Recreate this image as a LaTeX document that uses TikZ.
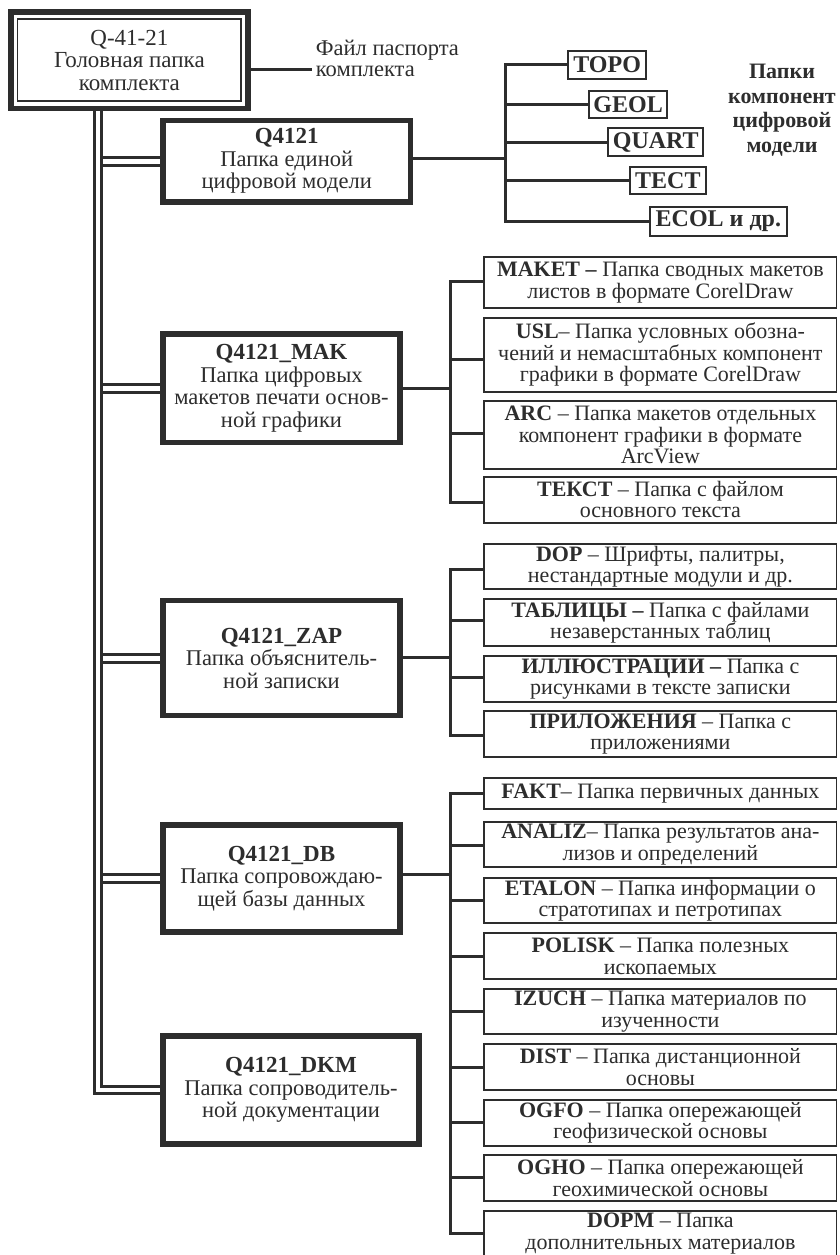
\documentclass[tikz,border=0pt]{standalone}
\usepackage{fontspec}
\setmainfont{Liberation Serif}
\usetikzlibrary{backgrounds}
\definecolor{ink}{RGB}{45,45,45}
\newcommand\rfnt{\fontsize{22}{21.5}\selectfont}
\newcommand\lfnt{\fontsize{22.5}{22.5}\selectfont}
\newcommand\ttl[1]{{\fontsize{23}{22.5}\selectfont\bfseries #1}}
\newcommand\rbx[5]{%
  \node[rbox, minimum height={#3-#2}] (#1) at (660.4,{(#2+#3)/2}) {#5};
  \coordinate (#1-b) at (484.3,#4);
}
\begin{document}
\begin{tikzpicture}[x=1pt,y=-1pt,
  conn/.style={draw=ink,line width=3pt},
  trunk/.style={draw=ink,double=white,line width=3pt,double distance=4.7pt},
  lbox/.style={draw=ink,fill=white,line width=5.5pt,inner sep=0pt,outer sep=0pt,align=center,text=ink,font=\lfnt},
  rbox/.style={draw=ink,fill=white,line width=1.8pt,minimum width=352.2pt,inner sep=0pt,outer sep=0pt,align=center,text=ink,font=\rfnt},
  cbox/.style={draw=ink,fill=white,line width=1.8pt,inner sep=0pt,outer sep=0pt,anchor=west,text=ink,font=\fontsize{24}{24}\selectfont\bfseries},
]
\useasboundingbox (0,0) rectangle (839,1255);
\clip (0,0) rectangle (839,1255);

% head box
\node[lbox, minimum width=237.2pt, minimum height=96.5pt, font=\fontsize{23}{22.5}\selectfont] (head) at (129.4,60.25)
  {Q-41-21\\Головная папка\\комплекта};
\draw[draw=ink,line width=1.7pt] ([xshift=6.7pt,yshift=-7pt]head.north west) rectangle ([xshift=-7pt,yshift=7.5pt]head.south east);
\node[anchor=west, align=left, inner xsep=4pt, inner ysep=0pt, text=ink, font=\fontsize{22.5}{21}\selectfont] (pass) at (311.7,58.5) {Файл паспорта\\комплекта};
\coordinate (passc) at (311.7,70);

% left boxes
\node[lbox, minimum width=247.5pt, minimum height=81.5pt] (q) at (286.75,161.25)
  {\ttl{Q4121}\\Папка единой\\цифровой модели};
\node[lbox, minimum width=237pt, minimum height=108.5pt] (mak) at (281.5,388.25)
  {\ttl{Q4121\_MAK}\\Папка цифровых\\макетов печати основ-\\ной графики};
\node[lbox, minimum width=237pt, minimum height=115pt] (zap) at (281.5,658.2)
  {\ttl{Q4121\_ZAP}\\Папка объяснитель-\\ной записки};
\node[lbox, minimum width=237pt, minimum height=107pt] (db) at (281.5,878.5)
  {\ttl{Q4121\_DB}\\Папка сопровождаю-\\щей базы данных};
\node[lbox, minimum width=256pt, minimum height=108pt] (dkm) at (291,1090)
  {\ttl{Q4121\_DKM}\\Папка сопроводитель-\\ной документации};

% component boxes
\node[cbox, minimum width=77.7pt, minimum height=28pt] (topo) at (568.3,65) {TOPO};
\node[cbox, minimum width=78.3pt, minimum height=27.3pt] (geol) at (589,104.5) {GEOL};
\node[cbox, minimum width=95pt, minimum height=27.7pt] (quart) at (608.3,142.15) {QUART};
\node[cbox, minimum width=75.7pt, minimum height=27.6pt] (tect) at (630,180.5) {TECT};
\node[cbox, minimum width=136.7pt, minimum height=29pt] (ecol) at (650,221.2) {ECOL и др.};
\node[align=center, text=ink, font=\fontsize{22}{24.5}\selectfont\bfseries] (complab) at (782,110)
  {Папки\\компонент\\цифровой\\модели};

% right boxes
\rbx{maket}{256.7}{308.3}{281.7}{\textbf{MAKET –} Папка сводных макетов\\листов в формате CorelDraw}
\rbx{usl}{317.7}{391.7}{359.3}{\textbf{USL}– Папка условных обозна-\\чений и немасштабных компонент\\графики в формате CorelDraw}
\rbx{arc}{401}{469}{433.3}{\textbf{ARC} – Папка макетов отдельных\\компонент графики в формате\\ArcView}
\rbx{tekst}{476.7}{522.7}{502.3}{\textbf{ТЕКСТ} – Папка с файлом\\основного текста}
\rbx{dop}{544}{589.3}{569.3}{\textbf{DOP} – Шрифты, палитры,\\нестандартные модули и др.}
\rbx{tabl}{599.3}{645.7}{620.3}{\textbf{ТАБЛИЦЫ –} Папка с файлами\\незаверстанных таблиц}
\rbx{illu}{656}{701.7}{677.3}{\textbf{ИЛЛЮСТРАЦИИ –} Папка с\\рисунками в тексте записки}
\rbx{pril}{711}{757.3}{735.3}{\textbf{ПРИЛОЖЕНИЯ} – Папка с\\приложениями}
\rbx{fakt}{778.3}{809.3}{793.3}{\textbf{FAKT}– Папка первичных данных}
\rbx{analiz}{822.3}{867.3}{845.7}{\textbf{ANALIZ}– Папка результатов ана-\\лизов и определений}
\rbx{etalon}{877.7}{923.3}{900.7}{\textbf{ETALON} – Папка информации о\\стратотипах и петротипах}
\rbx{polisk}{933.3}{979}{956.7}{\textbf{POLISK} – Папка полезных\\ископаемых}
\rbx{izuch}{989}{1034.3}{1011.7}{\textbf{IZUCH} – Папка материалов по\\изученности}
\rbx{dist}{1044.3}{1090}{1067.3}{\textbf{DIST} – Папка дистанционной\\основы}
\rbx{ogfo}{1100}{1145.7}{1122.3}{\textbf{OGFO} – Папка опережающей\\геофизической основы}
\rbx{ogho}{1155}{1201}{1177.7}{\textbf{OGHO} – Папка опережающей\\геохимической основы}
\rbx{dopm}{1210.7}{1256}{1233.3}{\textbf{DOPM} – Папка\\дополнительных материалов}

\begin{scope}[on background layer]
  % passport connector
  \draw[conn] (head.east |- passc) -- (pass.west |- passc);
  % trunk
  \coordinate (tr) at (97.85,0);
  \coordinate (trin) at (103,0);
  \draw[trunk] (head.south -| tr) |- (dkm.west);
  \foreach \b in {q,mak,zap,db}{\draw[trunk] (trin |- \b.west) -- (\b.west);}
  % components
  \coordinate (jq) at (505.8,158.3);
  \draw[conn] (q.east |- jq) -- (jq);
  \draw[conn] (topo.west) -| (jq) |- (ecol.west);
  \foreach \b in {geol,quart,tect}{\draw[conn] (jq |- \b.west) -- (\b.west);}
  % MAK group
  \coordinate (jmak) at (450.5,388.3);
  \draw[conn] (mak.east |- jmak) -- (jmak);
  \draw[conn] (maket.west |- maket-b) -| (jmak) |- (tekst.west |- tekst-b);
  \foreach \b in {usl,arc}{\draw[conn] (jmak |- \b-b) -- (\b.west |- \b-b);}
  % ZAP group
  \coordinate (jzap) at (450.5,657.3);
  \draw[conn] (zap.east |- jzap) -- (jzap);
  \draw[conn] (dop.west |- dop-b) -| (jzap) |- (pril.west |- pril-b);
  \foreach \b in {tabl,illu}{\draw[conn] (jzap |- \b-b) -- (\b.west |- \b-b);}
  % DB group
  \coordinate (jdb) at (450.5,874.3);
  \draw[conn] (db.east |- jdb) -- (jdb);
  \draw[conn] (fakt.west |- fakt-b) -| (jdb) |- (dopm.west |- dopm-b);
  \foreach \b in {analiz,etalon,polisk,izuch,dist,ogfo,ogho}{\draw[conn] (jdb |- \b-b) -- (\b.west |- \b-b);}
\end{scope}
\end{tikzpicture}
\end{document}
